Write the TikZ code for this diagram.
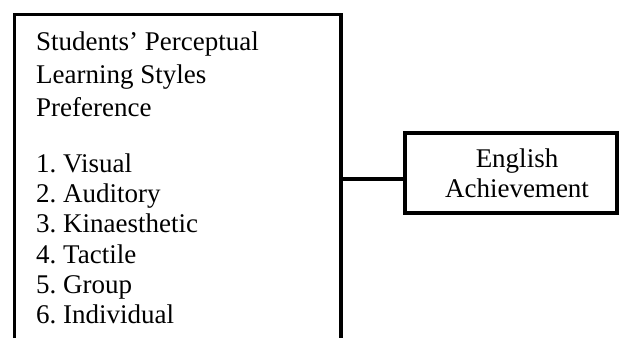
\documentclass[tikz,border=0pt]{standalone}
\usepackage{fontspec}
\setmainfont{Liberation Serif}
\frenchspacing
\begin{document}
\begin{tikzpicture}[x=1pt,y=-1pt,
  txt/.style={anchor=base west,inner sep=0pt,font=\fontsize{27}{30}\selectfont},
  ctxt/.style={anchor=base,inner sep=0pt,font=\fontsize{27}{30}\selectfont},
  frame/.style={line width=3.4pt,draw=black},
  outbox/.style={frame,minimum width=212pt,minimum height=80pt,inner sep=0pt}]
\useasboundingbox (0,0) rectangle (619,338);
\fill[white] (0,0) rectangle (619,338);
% left box (open at bottom)
\coordinate (lbl) at (14.3,338);
\coordinate (lbr) at (341,338);
\draw[frame,line join=miter] (lbl) -- (14.3,14.3) -- (341,14.3) -- (lbr);
\coordinate (lbc) at (341,179);
% texts
\node[txt] (t1) at (36,50) {Students’ Perceptual};
\node[txt] (t2) at (36,83) {Learning Styles};
\node[txt] (t3) at (36,116) {Preference};
\node[txt] (l1) at (36,172) {1. Visual};
\node[txt] (l2) at (36,202) {2. Auditory};
\node[txt] (l3) at (36,232.5) {3. Kinaesthetic};
\node[txt] (l4) at (36,263) {4. Tactile};
\node[txt] (l5) at (36,293) {5. Group};
\node[txt] (l6) at (36,323) {6. Individual};
% right box
\node[outbox] (eng) at (511,173) {};
\node[ctxt] (e1) at (517,167) {English};
\node[ctxt] (e2) at (517,197) {Achievement};
\draw[line width=4pt] (lbc) -- (lbc -| eng.west);
\end{tikzpicture}
\end{document}
